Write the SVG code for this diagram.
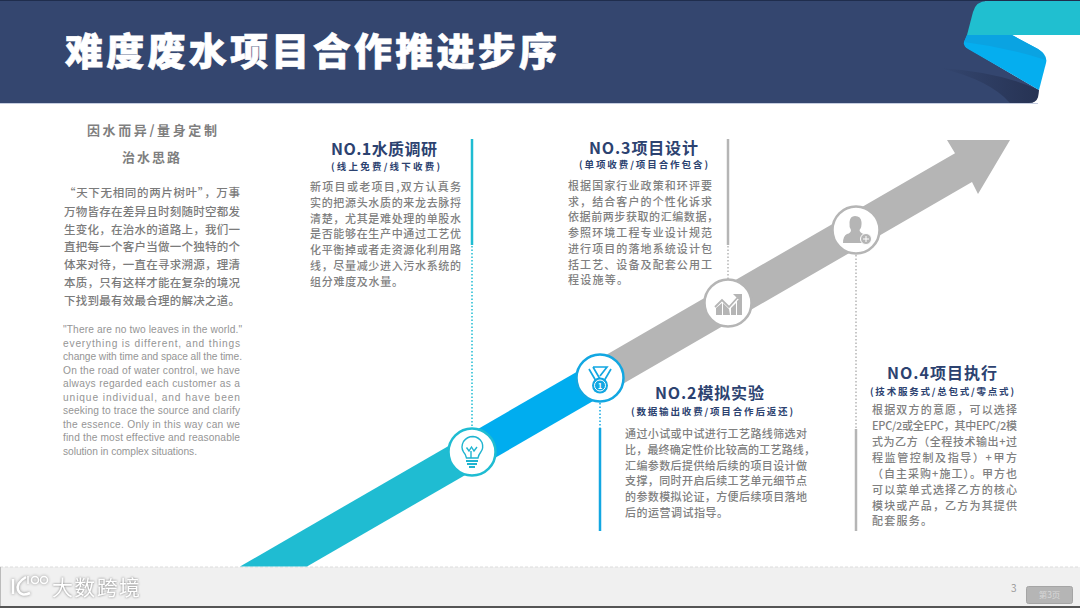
<svg xmlns="http://www.w3.org/2000/svg" width="1080" height="608" viewBox="0 0 1080 608">
<style>
text{font-family:"Noto Sans CJK SC","Liberation Sans",sans-serif}
.b{font-size:11px;font-weight:500;fill:#808080}
.l{font-size:11.5px;font-weight:500;fill:#7b7b7b}
.e{font-size:10.2px;fill:#959595;font-family:"Liberation Sans",sans-serif}
.t{font-size:16px;font-weight:700;fill:#2c4270}
.s{font-size:9.5px;font-weight:700;fill:#2c4270}
.h{font-size:13px;font-weight:700;fill:#7f7f7f}
.dot{fill:none;stroke-width:1.5;stroke-dasharray:1.5 2}
.sol{fill:none;stroke-width:2.5}
.c{fill:#fff;stroke-width:2.5}
</style>
<defs>
<linearGradient id="sh" x1="940" y1="0" x2="1040" y2="0" gradientUnits="userSpaceOnUse"><stop offset="0" stop-color="#1d2540" stop-opacity="0"/><stop offset="1" stop-color="#1d2540" stop-opacity=".6"/></linearGradient>
</defs>
<rect width="1080" height="608" fill="#fff"/>
<g id="header">
<rect width="1080" height="1.5" fill="#1f2d4d"/>
<path d="M0 1H985V35L966 47L1039 90L1038 97Q1036 103 1029 103H0Z" fill="#34466f"/>
<path d="M940 68Q1000 72 1039 90L1038 97Q1036 103 1029 103H1010Q990 80 940 68Z" fill="url(#sh)"/>
<rect y="103" width="1038" height="1" fill="#c5cde0"/>
<path d="M967 35L973 12Q976 1 987 1H1080V35Z" fill="#20bfd0"/>
<path d="M967 35H1012L1038 49Q1048 55 1046 63L1039 90L968 49Q963 46 964 42Z" fill="#05aeef"/>
<path d="M967 35H1012L1038 49Q1044 53 1046 60Q1005 47 964 42Z" fill="#0aa3e2"/>
<text x="65" y="65" font-size="38" font-weight="900" fill="#fff" stroke="#fff" stroke-width=".6" textLength="492" lengthAdjust="spacing">难度废水项目合作推进步序</text>
</g>
<g id="footer">
<rect y="567" width="1080" height="39" fill="#f0f0f0"/>
<path d="M0 567H1080" stroke="#dcdcdc" stroke-dasharray="3 2" fill="none"/>
<rect y="606" width="1080" height="2" fill="#555"/>
<rect y="567" width="1" height="39" fill="#bbb"/>
<g fill="none" stroke="#fff" stroke-width="2.5" style="filter:drop-shadow(0 0 1.5px #8a8a8a)">
<path d="M13 579V594"/><path d="M26 577Q16 583 18 590Q21 597 30 593"/>
<path d="M28 576V584" stroke-width="1.5"/><circle cx="35" cy="580" r="3.5" stroke-width="1.5"/><circle cx="44" cy="580" r="3.5" stroke-width="1.5"/>
</g>
<text x="52" y="595" font-size="21" textLength="88" lengthAdjust="spacing" fill="#fff" style="filter:drop-shadow(0 0 1.2px #777)">大数跨境</text>
<text x="1011" y="592" font-size="10" fill="#9a9a9a" font-family="Liberation Sans">3</text>
<rect x="1026.5" y="586.5" width="46" height="17" rx="2" fill="#b5b5b5" stroke="#a5a5a5"/>
<text x="1049.5" y="598" font-size="8.5" text-anchor="middle" fill="#d8d8d8">第3页</text>
</g>
<g id="arrow">
<path d="M240 566.5H307L490 460.7L455 442.2Z" fill="#1fbcd2"/>
<path d="M455 442.2L490 460.7L620 385.6L590 364.2Z" fill="#00adef"/>
<path d="M590 364.2L955 153.2L947 140H1010L978 194L972 182.1L620 385.6Z" fill="#b5b5b5"/>
</g>
<g id="connectors">
<path class="sol" d="M472 139V245" stroke="#1fbcd2"/>
<path class="dot" d="M472 246V428" stroke="#1fbcd2"/>
<path class="dot" d="M600 403V428" stroke="#12a7e2"/>
<path class="sol" d="M600 428V531" stroke="#12a7e2"/>
<path class="sol" d="M728 139V245" stroke="#b5b5b5"/>
<path class="dot" d="M728 246V279" stroke="#b5b5b5"/>
<path class="dot" d="M856 255V429" stroke="#b5b5b5"/>
<path class="sol" d="M856 429V531" stroke="#b5b5b5"/>
</g>
<g id="node-icon-1">
<circle class="c" cx="472" cy="452" r="23.5" stroke="#1fbcd2"/>
<g fill="none" stroke="#1fb4d0" stroke-width="1.4">
<path d="M466.5 458Q465.5 454 463.5 452Q460.5 447 463.5 441.5Q467 436.5 473 436.5Q479 437 482 442.5Q484 448 480.5 452.5Q478.5 455 478 458Z"/>
<path d="M466.5 447.5L469 451L471.5 447L474 451L477 447M471 451V458"/>
<path d="M466 461H478M467 464H477M469 467H475" stroke-width="1.8"/>
</g>
</g>
<g id="node-icon-2">
<circle class="c" cx="600" cy="378" r="23.5" stroke="#12a7e2"/>
<g fill="none" stroke="#12a7e2" stroke-width="1.7">
<path d="M589 369L596 381M593 367L600 379M611 369L604 381M593 367H607L600 376"/>
</g>
<circle cx="600" cy="385.5" r="8" fill="#12a7e2"/>
<circle cx="600" cy="385.5" r="5.5" fill="none" stroke="#fff"/>
<text x="600" y="388.5" font-size="7.5" font-weight="700" fill="#fff" text-anchor="middle">1</text>
</g>
<g id="node-icon-3">
<circle class="c" cx="728" cy="303" r="23.5" stroke="#b5b5b5"/>
<path d="M715 307L722 300L729 307L739 296" fill="none" stroke="#b5b5b5" stroke-width="1.8"/>
<path d="M733 294H742V303Z" fill="#b5b5b5"/>
<path d="M716 315V308L722 303V315ZM723 315V303L729 309L730 315ZM731 315V308L736 303V315ZM737 315V301L742 297V315Z" fill="#b5b5b5"/>
</g>
<g id="node-icon-4">
<circle class="c" cx="856" cy="230" r="23.5" stroke="#b5b5b5"/>
<path d="M843 243Q843 236 847 234Q851 233 851 230Q849 227 849.5 222Q850 216 855 216Q861 216 861.500 222Q862 227 859.500 230Q860 233 864 234L870 238L863 243Z" fill="#b5b5b5"/>
<circle cx="866" cy="239" r="5.5" fill="#b5b5b5" stroke="#fff"/>
<path d="M863 239H869M866 236V242" stroke="#fff" fill="none"/>
</g>
<g id="intro">
<text class="h" x="87" y="135" textLength="130" lengthAdjust="spacing">因水而异/量身定制</text>
<text class="h" x="122" y="162" textLength="58" lengthAdjust="spacing">治水思路</text>
<text class="l" x="64" y="197" textLength="176" lengthAdjust="spacing">“天下无相同的两片树叶”，万事</text>
<text class="l" x="64" y="216" textLength="176" lengthAdjust="spacing">万物皆存在差异且时刻随时空都发</text>
<text class="l" x="64" y="234" textLength="176" lengthAdjust="spacing">生变化，在治水的道路上，我们一</text>
<text class="l" x="64" y="251" textLength="176" lengthAdjust="spacing">直把每一个客户当做一个独特的个</text>
<text class="l" x="64" y="269" textLength="176" lengthAdjust="spacing">体来对待，一直在寻求溯源，理清</text>
<text class="l" x="64" y="287" textLength="176" lengthAdjust="spacing">本质，只有这样才能在复杂的境况</text>
<text class="l" x="64" y="305" textLength="176" lengthAdjust="spacing">下找到最有效最合理的解决之道。</text>
<text class="e" x="63" y="333" textLength="179" lengthAdjust="spacing">"There are no two leaves in the world."</text>
<text class="e" x="63" y="346.5" textLength="177" lengthAdjust="spacing">everything is different, and things</text>
<text class="e" x="63" y="360" textLength="179" lengthAdjust="spacing">change with time and space all the time.</text>
<text class="e" x="63" y="373.5" textLength="177" lengthAdjust="spacing">On the road of water control, we have</text>
<text class="e" x="63" y="387" textLength="177" lengthAdjust="spacing">always regarded each customer as a</text>
<text class="e" x="63" y="400.5" textLength="177" lengthAdjust="spacing">unique individual, and have been</text>
<text class="e" x="63" y="414" textLength="177" lengthAdjust="spacing">seeking to trace the source and clarify</text>
<text class="e" x="63" y="427.5" textLength="177" lengthAdjust="spacing">the essence. Only in this way can we</text>
<text class="e" x="63" y="441" textLength="177" lengthAdjust="spacing">find the most effective and reasonable</text>
<text class="e" x="63" y="454.5" textLength="134" lengthAdjust="spacing">solution in complex situations.</text>
</g>
<g id="card-1">
<text class="t" x="331" y="155" textLength="106" lengthAdjust="spacing">NO.1水质调研</text>
<text class="s" x="331" y="170" textLength="109" lengthAdjust="spacing">(线上免费/线下收费)</text>
<text class="b" x="310" y="191" textLength="151" lengthAdjust="spacing">新项目或老项目,双方认真务</text>
<text class="b" x="310" y="207" textLength="151" lengthAdjust="spacing">实的把源头水质的来龙去脉捋</text>
<text class="b" x="310" y="223" textLength="151" lengthAdjust="spacing">清楚，尤其是难处理的单股水</text>
<text class="b" x="310" y="238" textLength="151" lengthAdjust="spacing">是否能够在生产中通过工艺优</text>
<text class="b" x="310" y="254" textLength="151" lengthAdjust="spacing">化平衡掉或者走资源化利用路</text>
<text class="b" x="310" y="270" textLength="151" lengthAdjust="spacing">线，尽量减少进入污水系统的</text>
<text class="b" x="310" y="286" textLength="93" lengthAdjust="spacing">组分难度及水量。</text>
</g>
<g id="card-3">
<text class="t" x="589" y="154" textLength="109" lengthAdjust="spacing">NO.3项目设计</text>
<text class="s" x="579" y="168" textLength="129" lengthAdjust="spacing">(单项收费/项目合作包含)</text>
<text class="b" x="568" y="190" textLength="144" lengthAdjust="spacing">根据国家行业政策和环评要</text>
<text class="b" x="568" y="206" textLength="144" lengthAdjust="spacing">求，结合客户的个性化诉求</text>
<text class="b" x="568" y="221" textLength="150" lengthAdjust="spacing">依据前两步获取的汇编数据，</text>
<text class="b" x="568" y="237" textLength="144" lengthAdjust="spacing">参照环境工程专业设计规范</text>
<text class="b" x="568" y="253" textLength="144" lengthAdjust="spacing">进行项目的落地系统设计包</text>
<text class="b" x="568" y="269" textLength="144" lengthAdjust="spacing">括工艺、设备及配套公用工</text>
<text class="b" x="568" y="284" textLength="60" lengthAdjust="spacing">程设施等。</text>
</g>
<g id="card-2">
<text class="t" x="655" y="399" textLength="109" lengthAdjust="spacing">NO.2模拟实验</text>
<text class="s" x="631" y="415" textLength="162" lengthAdjust="spacing">(数据输出收费/项目合作后返还)</text>
<text class="b" x="625" y="438" textLength="182" lengthAdjust="spacing">通过小试或中试进行工艺路线筛选对</text>
<text class="b" x="625" y="454" textLength="190" lengthAdjust="spacing">比，最终确定性价比较高的工艺路线，</text>
<text class="b" x="625" y="470" textLength="182" lengthAdjust="spacing">汇编参数后提供给后续的项目设计做</text>
<text class="b" x="625" y="485" textLength="182" lengthAdjust="spacing">支撑，同时开启后续工艺单元细节点</text>
<text class="b" x="625" y="501" textLength="182" lengthAdjust="spacing">的参数模拟论证，方便后续项目落地</text>
<text class="b" x="625" y="517" textLength="103" lengthAdjust="spacing">后的运营调试指导。</text>
</g>
<g id="card-4">
<text class="t" x="887" y="379" textLength="110" lengthAdjust="spacing">NO.4项目执行</text>
<text class="s" x="870" y="395" textLength="144" lengthAdjust="spacing">(技术服务式/总包式/零点式)</text>
<text class="b" x="872" y="414" textLength="145" lengthAdjust="spacing">根据双方的意愿，可以选择</text>
<text class="b" x="872" y="430" textLength="145" lengthAdjust="spacing">EPC/2或全EPC，其中EPC/2模</text>
<text class="b" x="872" y="446" textLength="145" lengthAdjust="spacing">式为乙方（全程技术输出+过</text>
<text class="b" x="872" y="462" textLength="145" lengthAdjust="spacing">程监管控制及指导）+甲方</text>
<text class="b" x="872" y="478" textLength="145" lengthAdjust="spacing">（自主采购+施工）。甲方也</text>
<text class="b" x="872" y="494" textLength="145" lengthAdjust="spacing">可以菜单式选择乙方的核心</text>
<text class="b" x="872" y="510" textLength="145" lengthAdjust="spacing">模块或产品，乙方为其提供</text>
<text class="b" x="872" y="525" textLength="60" lengthAdjust="spacing">配套服务。</text>
</g>
</svg>
